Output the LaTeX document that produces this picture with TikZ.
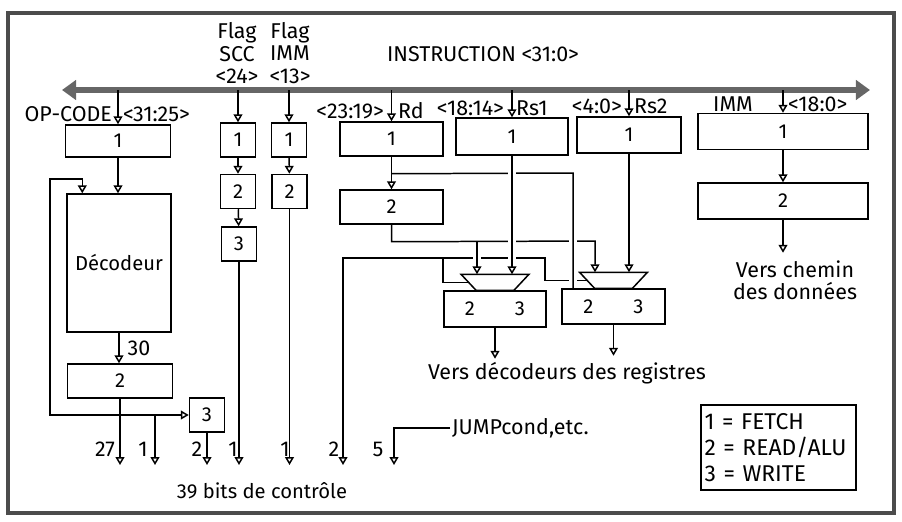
\documentclass[tikz,border=0pt]{standalone}
\usepackage{fontspec}
\setmainfont{Fira Sans}
\usetikzlibrary{shapes.geometric, arrows.meta, positioning, calc}
\tikzset{
    base/.style={draw, line width=0.85pt, align=center, font=\fontsize{11.5}{13}\selectfont, inner sep=0pt},
    stage/.style={base, rectangle, minimum width=2.08cm, minimum height=0.68cm},
    cell/.style={stage, minimum width=0.7cm},
    lbl/.style={font=\fontsize{12.2}{12.6}\selectfont, inner sep=1pt},
    arrow/.style={-{Triangle[open, length=4.5pt, width=5pt]}, line width=0.85pt},
    twoway/.style={{Triangle[open, length=4.5pt, width=5pt]}-{Triangle[open, length=4.5pt, width=5pt]}, line width=0.85pt},
    wire/.style={line width=0.85pt},
    hop/.style={preaction={draw=white, line width=4.5pt, -, shorten <=4pt, shorten >=4pt}},
    bus/.style={{Triangle[length=8pt, width=11pt]}-{Triangle[length=8pt, width=11pt]}, line width=3pt, draw=black!60},
    frame/.style={line width=1.8pt, draw=black!70}
}

\begin{document}
\begin{tikzpicture}[x=0.02cm, y=-0.02cm]
    \useasboundingbox (0,0) rectangle (902,521);
    \draw [frame] (8,13) rectangle (894,513);

    % instruction bus
    \coordinate (busL) at (62,90);
    \coordinate (busR) at (870,90);
    \coordinate (ctl) at (0,465);
    \draw [bus] (busL) -- (busR);
    \node (instr) [lbl] at (483,54) {INSTRUCTION <31:0>};
    \node (flagscc) [lbl, align=center] at (237,53) {Flag\\SCC\\<24>};
    \node (flagimm) [lbl, align=center] at (290,53) {Flag\\IMM\\<13>};

    % op-code column
    \node (opA) [stage, minimum width=2.1cm, minimum height=0.64cm] at (118,141) {1};
    \node (dec) [stage, minimum width=2.08cm, minimum height=2.76cm] at (119,263) {Décodeur};
    \node (opB) [stage, minimum width=2.1cm] at (120,381) {2};
    \node (opC) [cell] at (207,415) {3};

    % flags
    \node (sccA) [cell] at (238,140) {1};
    \node (sccB) [cell] at (238,191.5) {2};
    \node (sccC) [cell] at (239,244) {3};
    \node (immA) [cell] at (289,140) {1};
    \node (immB) [cell] at (289.5,191.5) {2};

    % register fields
    \node (rdA) [stage, minimum width=2.06cm] at (391.5,139) {1};
    \node (rdB) [stage, minimum width=2.06cm] at (391.5,207) {2};
    \node (rsoA) [stage, minimum width=2.24cm, minimum height=0.74cm] at (512,136.5) {1};
    \node (rstA) [stage, minimum width=2.08cm, minimum height=0.72cm] at (629,135) {1};
    \node (valA) [stage, minimum width=3.4cm, minimum height=0.72cm] at (783,131.5) {1};
    \node (valB) [stage, minimum width=3.4cm, minimum height=0.72cm] at (783,201) {2};
    \node (regA) [stage, minimum width=2.04cm, minimum height=0.72cm] at (495,309) {2\hspace{0.8cm}3};
    \node (regB) [stage, minimum width=2.06cm, minimum height=0.7cm] at (613.5,306.5) {2\hspace{0.8cm}3};

    % multiplexers on top of the register boxes
    \coordinate (muxA) at ($(regA.north)+(0,-16)$);
    \coordinate (muxAsel) at ($(regA.north)+(-26.5,-8)$);
    \draw [wire] ($(regA.north)+(-34,-16)$) -- ++(68,0) -- ($(regA.north)+(19,0)$) -- ($(regA.north)+(-19,0)$) -- cycle;
    \coordinate (muxB) at ($(regB.north)+(0,-16)$);
    \coordinate (muxBsel) at ($(regB.north)+(-26.5,-8)$);
    \draw [wire] ($(regB.north)+(-34,-16)$) -- ++(68,0) -- ($(regB.north)+(19,0)$) -- ($(regB.north)+(-19,0)$) -- cycle;

    % taps from the bus
    \draw [arrow] (opA.north |- busL) -- (opA.north);
    \draw [arrow] (sccA.north |- busL) -- (sccA.north);
    \draw [arrow] (immA.north |- busL) -- (immA.north);
    \draw [arrow] (rdA.north |- busL) -- (rdA.north);
    \draw [arrow] (rsoA.north |- busL) -- (rsoA.north);
    \draw [arrow] (rstA.north |- busL) -- (rstA.north);
    \draw [arrow] (valA.north |- busL) -- (valA.north);
    \node (opcode) [lbl, anchor=east] at (114,114) {OP-CODE};
    \node [lbl, anchor=west] at (121,114) {<31:25>};
    \node [lbl, anchor=east] at (386,111) {<23:19>};
    \node (rdname) [lbl, anchor=west] at (396,111) {Rd};
    \node [lbl, anchor=east] at (506,108) {<18:14>};
    \node (rsoname) [lbl, anchor=west] at (514,108) {Rs1};
    \node [lbl, anchor=east] at (624,106) {<4:0>};
    \node (rstname) [lbl, anchor=west] at (632,106) {Rs2};
    \node (valname) [lbl, anchor=east] at (755,104) {IMM};
    \node [lbl, anchor=west] at (786,104) {<18:0>};

    % op-code path
    \draw [arrow] (opA.south) -- (opA.south |- dec.north);
    \draw [arrow] (dec.south) -- (dec.south |- opB.north);
    \node (n30) [lbl] at (139,348) {30};
    \coordinate (loopT) at (50,179);
    \coordinate (loopB) at (50,415);
    \draw [twoway] ($(dec.north west)+(16,0)$) |- (loopT) -- (loopB) -- (opC.west);
    \coordinate (brk) at (155,415);

    % flag paths
    \draw [arrow] (sccA) -- (sccB);
    \draw [arrow] (sccB) -- (sccC);
    \draw [arrow] (immA) -- (immB);

    % register select
    \coordinate (selL) at (343,258);
    \coordinate (selA) at (443,258);
    \coordinate (selB) at (545,258);
    \draw [arrow] (muxBsel) -| (selB) -- (selL) -- (selL |- ctl);
    \draw [wire] (muxAsel) -| (selA);

    % Rd / Rs1 / Rs2 paths
    \draw [arrow] (rdA) -- (rdB);
    \coordinate (rdJ) at ($(rdA.south)+(0,17)$);
    \coordinate (rdK) at (573,173);
    \coordinate (rdL) at ($(rdB.south)+(0,17)$);
    \coordinate (rdM) at (595,241);
    \coordinate (rdN) at (477,241);
    \draw [arrow] (rdB.south) -- (rdL) -- (rdM) -- (rdM |- muxB);
    \draw [wire, hop] (rdJ) -- (rdK) -- (rdK |- regB.north);
    \draw [arrow, hop] (rdN) -- (rdN |- muxA);
    \draw [arrow, hop] (rsoA.south) -- (rsoA.south |- muxA);
    \draw [arrow] (rstA.south) -- (rstA.south |- muxB);
    \coordinate (dstA) at ($(regA.south)+(0,31)$);
    \coordinate (dstB) at ($(regB.south)+(0,31)$);
    \draw [arrow] (regA.south) -- (dstA);
    \draw [arrow] (regB.south) -- (dstB);
    \node (todec) [lbl] at (567,373) {Vers décodeurs des registres};

    % immediate
    \draw [arrow] (valA) -- (valB);
    \coordinate (valOut) at ($(valB.south)+(0,33)$);
    \draw [arrow] (valB.south) -- (valOut);
    \node (topath) [lbl, align=center] at (795,280) {Vers chemin\\des données};

    % control bits
    \draw [arrow] (opB.south) -- (opB.south |- ctl);
    \draw [arrow] (brk) -- (brk |- ctl);
    \draw [arrow] (opC.south) -- (opC.south |- ctl);
    \draw [arrow] (sccC.south) -- (sccC.south |- ctl);
    \draw [arrow] (immB.south) -- (immB.south |- ctl);
    \node (jump) [lbl, anchor=west] at (450,428) {JUMPcond,etc.};
    \coordinate (jmp) at (394,465);
    \draw [arrow] (jump.west) -| (jmp);
    \node (b27) [lbl] at (105,449) {27};
    \node (b1a) [lbl] at (143,449) {1};
    \node (b2a) [lbl] at (197,449) {2};
    \node (b1b) [lbl] at (233,449) {1};
    \node (b1c) [lbl] at (285,449) {1};
    \node (b2b) [lbl] at (334,449) {2};
    \node (b5) [lbl] at (378,449) {5};
    \node (bits) [lbl, font=\fontsize{11.5}{13}\selectfont] at (262,491) {39 bits de contrôle};

    % legend
    \node (legend) [draw, line width=0.85pt, align=left, font=\fontsize{13}{14.6}\selectfont, text width=2.96cm, inner xsep=0.07cm, minimum height=1.7cm] at (778.5,447.5) {1 = FETCH\\2 = READ/ALU\\3 = WRITE};
\end{tikzpicture}
\end{document}
